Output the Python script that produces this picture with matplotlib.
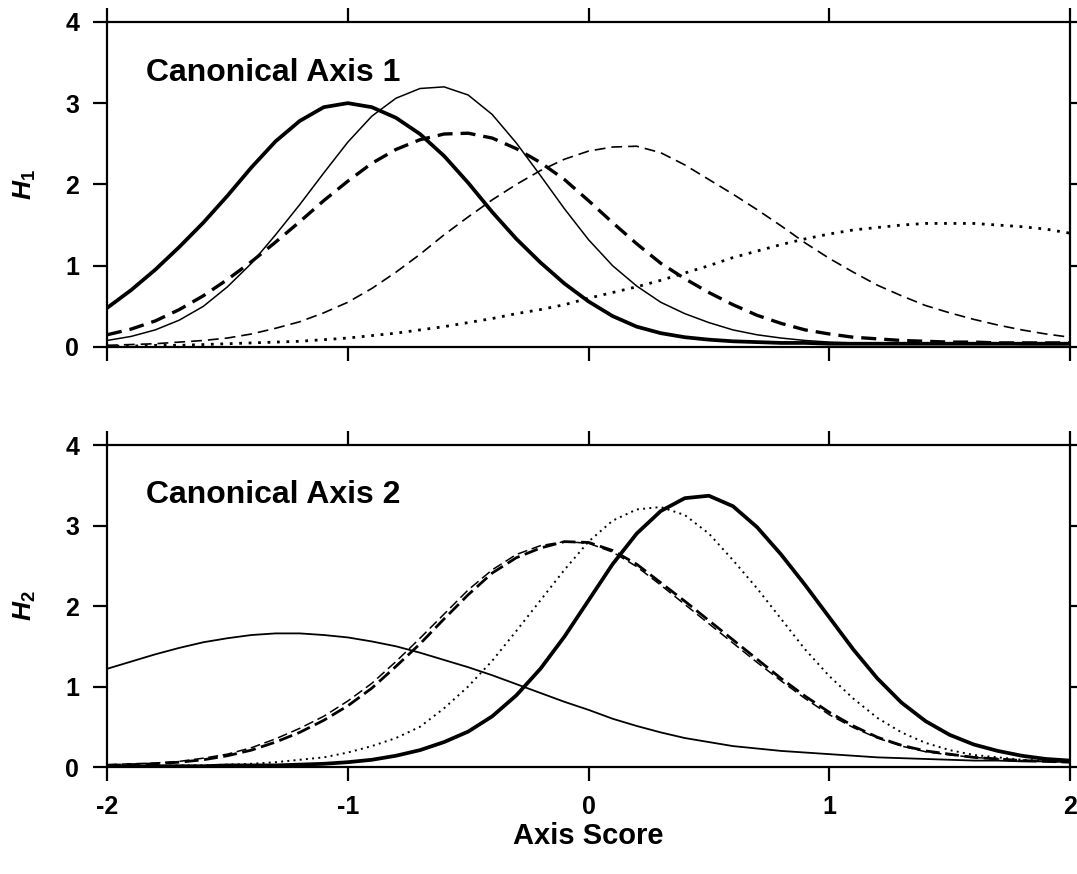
import matplotlib
matplotlib.use("Agg")
import matplotlib.pyplot as plt

plt.rcParams['font.family'] = ['Liberation Sans', 'DejaVu Sans']
plt.rcParams['font.weight'] = 'bold'
plt.rcParams['axes.unicode_minus'] = False
plt.rcParams['mathtext.fontset'] = 'custom'
plt.rcParams['mathtext.it'] = 'Liberation Sans:italic:bold'
plt.rcParams['mathtext.rm'] = 'Liberation Sans:bold'

score = [-2.0, -1.9, -1.8, -1.7, -1.6, -1.5, -1.4, -1.3, -1.2, -1.1, -1.0,
         -0.9, -0.8, -0.7, -0.6, -0.5, -0.4, -0.3, -0.2, -0.1, 0.0,
         0.1, 0.2, 0.3, 0.4, 0.5, 0.6, 0.7, 0.8, 0.9, 1.0,
         1.1, 1.2, 1.3, 1.4, 1.5, 1.6, 1.7, 1.8, 1.9, 2.0]

# canonical axis 1 (H1)
ax1_thick_solid = [0.48, 0.70, 0.95, 1.23, 1.53, 1.86, 2.21, 2.53, 2.78, 2.95, 3.00,
                   2.95, 2.82, 2.62, 2.35, 2.02, 1.66, 1.33, 1.04, 0.78, 0.56,
                   0.38, 0.25, 0.17, 0.12, 0.09, 0.07, 0.06, 0.05, 0.05, 0.04,
                   0.04, 0.04, 0.04, 0.04, 0.04, 0.04, 0.04, 0.04, 0.04, 0.04]
ax1_thin_solid = [0.08, 0.13, 0.21, 0.33, 0.50, 0.74, 1.03, 1.38, 1.75, 2.14, 2.52,
                  2.84, 3.06, 3.18, 3.20, 3.10, 2.86, 2.51, 2.11, 1.70, 1.32,
                  1.00, 0.75, 0.55, 0.41, 0.30, 0.21, 0.15, 0.11, 0.08, 0.06,
                  0.05, 0.05, 0.04, 0.04, 0.04, 0.04, 0.04, 0.03, 0.03, 0.03]
ax1_thick_dash = [0.15, 0.22, 0.32, 0.46, 0.63, 0.83, 1.05, 1.29, 1.54, 1.80, 2.04,
                  2.26, 2.43, 2.55, 2.62, 2.63, 2.57, 2.44, 2.27, 2.06, 1.80,
                  1.53, 1.27, 1.03, 0.84, 0.67, 0.52, 0.39, 0.29, 0.21, 0.16,
                  0.12, 0.10, 0.08, 0.07, 0.06, 0.06, 0.05, 0.05, 0.05, 0.05]
ax1_thin_dash = [0.02, 0.03, 0.04, 0.06, 0.08, 0.11, 0.16, 0.23, 0.31, 0.42, 0.55,
                 0.72, 0.92, 1.14, 1.38, 1.60, 1.81, 2.00, 2.17, 2.31, 2.41,
                 2.46, 2.47, 2.39, 2.24, 2.06, 1.88, 1.69, 1.49, 1.28, 1.09,
                 0.92, 0.76, 0.63, 0.51, 0.42, 0.34, 0.27, 0.21, 0.16, 0.12]
ax1_dotted = [0.01, 0.01, 0.02, 0.02, 0.03, 0.04, 0.05, 0.06, 0.07, 0.09, 0.11,
              0.14, 0.17, 0.21, 0.25, 0.30, 0.35, 0.41, 0.46, 0.52, 0.60,
              0.67, 0.74, 0.82, 0.91, 1.00, 1.10, 1.18, 1.26, 1.33, 1.39,
              1.44, 1.47, 1.50, 1.52, 1.52, 1.52, 1.50, 1.48, 1.45, 1.40]

# canonical axis 2 (H2)
ax2_thin_solid = [1.22, 1.31, 1.40, 1.48, 1.55, 1.60, 1.64, 1.66, 1.66, 1.64, 1.61,
                  1.56, 1.50, 1.42, 1.33, 1.24, 1.14, 1.03, 0.92, 0.81, 0.71,
                  0.60, 0.51, 0.43, 0.36, 0.31, 0.26, 0.23, 0.20, 0.18, 0.16,
                  0.14, 0.12, 0.11, 0.10, 0.09, 0.08, 0.08, 0.07, 0.07, 0.06]
ax2_thick_dash = [0.02, 0.03, 0.04, 0.06, 0.09, 0.14, 0.21, 0.31, 0.43, 0.58, 0.76,
                  0.98, 1.25, 1.53, 1.84, 2.14, 2.41, 2.60, 2.72, 2.80, 2.79,
                  2.69, 2.52, 2.29, 2.06, 1.82, 1.58, 1.34, 1.10, 0.88, 0.68,
                  0.51, 0.37, 0.27, 0.20, 0.16, 0.12, 0.10, 0.08, 0.07, 0.06]
ax2_thin_dash = [0.03, 0.04, 0.05, 0.07, 0.11, 0.16, 0.24, 0.35, 0.48, 0.63, 0.82,
                 1.04, 1.31, 1.60, 1.90, 2.20, 2.45, 2.64, 2.75, 2.80, 2.78,
                 2.67, 2.49, 2.26, 2.02, 1.78, 1.54, 1.30, 1.07, 0.85, 0.65,
                 0.49, 0.36, 0.26, 0.19, 0.15, 0.12, 0.10, 0.08, 0.07, 0.06]
ax2_dotted = [0.01, 0.01, 0.01, 0.02, 0.02, 0.03, 0.04, 0.06, 0.09, 0.12, 0.18,
              0.26, 0.36, 0.50, 0.73, 1.00, 1.32, 1.69, 2.07, 2.45, 2.80,
              3.06, 3.20, 3.23, 3.13, 2.90, 2.57, 2.22, 1.84, 1.46, 1.13,
              0.85, 0.61, 0.43, 0.30, 0.21, 0.15, 0.12, 0.09, 0.08, 0.06]
ax2_thick_solid = [0.01, 0.01, 0.01, 0.01, 0.01, 0.02, 0.02, 0.02, 0.03, 0.04, 0.06,
                   0.09, 0.14, 0.21, 0.31, 0.44, 0.63, 0.89, 1.22, 1.62, 2.07,
                   2.52, 2.90, 3.18, 3.34, 3.37, 3.24, 2.98, 2.64, 2.26, 1.86,
                   1.46, 1.10, 0.80, 0.57, 0.40, 0.28, 0.20, 0.14, 0.10, 0.08]

x_ticks = [-2, -1, 0, 1, 2]
y_ticks = [0, 1, 2, 3, 4]

fig = plt.figure(figsize=(10.77, 8.74), dpi=100)
top = fig.add_axes([0.0994, 0.603, 0.8941, 0.372])
bot = fig.add_axes([0.0994, 0.1224, 0.8941, 0.3684])


#sets up the frame, ticks out on all four sides like the original plot
def frame(ax, show_x):
    ax.set_xlim(-2, 2)
    ax.set_ylim(0, 4)
    ax.set_xticks(x_ticks)
    ax.set_yticks(y_ticks)
    for s in ax.spines.values():
        s.set_linewidth(1.6)
    ax.tick_params(direction='out', length=10, width=1.6, top=True, right=True,
                   labelsize=18, pad=10, colors='black')
    ax.tick_params(axis='x', pad=10, labelbottom=show_x)
    ax.yaxis.set_label_coords(-0.072, 0.5)


frame(top, False)
frame(bot, True)

k = 'black'
top.plot(score, ax1_dotted, color=k, lw=2.0, dashes=(1.0, 2.4))
top.plot(score, ax1_thin_dash, color=k, lw=1.2, dashes=(6.5, 3.6))
top.plot(score, ax1_thick_dash, color=k, lw=2.4, dashes=(4.5, 2.4))
top.plot(score, ax1_thin_solid, color=k, lw=1.1)
top.plot(score, ax1_thick_solid, color=k, lw=2.7)

bot.plot(score, ax2_thin_solid, color=k, lw=1.3)
bot.plot(score, ax2_thin_dash, color=k, lw=1.1, dashes=(6.5, 3.0))
bot.plot(score, ax2_thick_dash, color=k, lw=2.0, dashes=(5.0, 2.0))
bot.plot(score, ax2_dotted, color=k, lw=1.4, dashes=(1.0, 2.2))
bot.plot(score, ax2_thick_solid, color=k, lw=2.7)

top.text(-1.84, 3.27, 'Canonical Axis 1', fontsize=23, fontweight='bold')
bot.text(-1.84, 3.28, 'Canonical Axis 2', fontsize=23, fontweight='bold')

top.set_ylabel(r'$H_1$', fontsize=19)
bot.set_ylabel(r'$H_2$', fontsize=19)
bot.set_xlabel('Axis Score', fontsize=21, fontweight='bold', labelpad=2)

plt.savefig('out.png', dpi=100)
